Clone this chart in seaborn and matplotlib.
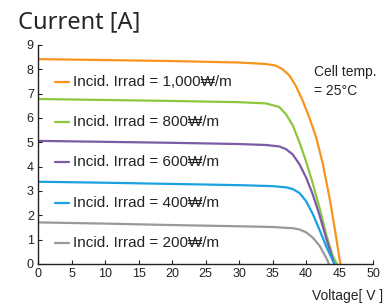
import pandas as pd
import matplotlib.pyplot as plt
import seaborn as sns

# I-V curves (voltage in V, current in A)
v_1000 = [0, 10, 20, 30, 34, 35.5, 36.5, 37.5, 38.5, 39.5, 40.5, 41.5, 42.5, 43.5, 44.3, 45.1]
i_1000 = [8.42, 8.38, 8.34, 8.28, 8.22, 8.15, 8.0, 7.75, 7.3, 6.7, 6.0, 5.2, 4.1, 2.7, 1.4, 0]

v_800 = [0, 10, 20, 30, 34, 36, 37, 38, 39, 40, 41, 42, 43, 44, 44.6]
i_800 = [6.78, 6.74, 6.70, 6.65, 6.60, 6.45, 6.15, 5.7, 5.0, 4.2, 3.3, 2.3, 1.2, 0.3, 0]

v_600 = [0, 10, 20, 30, 34, 36, 37, 38, 39, 40, 41, 42, 43, 44.2]
i_600 = [5.06, 5.02, 4.98, 4.93, 4.89, 4.83, 4.72, 4.50, 4.10, 3.55, 2.85, 2.0, 1.05, 0]

v_400 = [0, 10, 20, 30, 35, 37, 38, 39, 40, 41, 42, 43, 44.2]
i_400 = [3.38, 3.34, 3.29, 3.24, 3.20, 3.15, 3.08, 2.92, 2.58, 2.05, 1.40, 0.72, 0]

v_200 = [0, 10, 20, 30, 35, 38, 39, 40, 41, 42, 43, 43.4]
i_200 = [1.71, 1.66, 1.60, 1.55, 1.52, 1.47, 1.42, 1.30, 1.08, 0.75, 0.25, 0]

labels = ['Incid. Irrad = 1,000₩/m', 'Incid. Irrad = 800₩/m', 'Incid. Irrad = 600₩/m',
          'Incid. Irrad = 400₩/m', 'Incid. Irrad = 200₩/m']
label_y = [7.48, 5.84, 4.19, 2.5, 0.86]
colors = ['#F7941D', '#8DC63F', '#7B5BA6', '#1BA1E2', '#999999']

curves = [(v_1000, i_1000), (v_800, i_800), (v_600, i_600), (v_400, i_400), (v_200, i_200)]
df = pd.concat([pd.DataFrame({'V': v, 'I': i, 'irr': lab}) for (v, i), lab in zip(curves, labels)])

sns.set_style('ticks')
plt.rcParams['font.family'] = ['Liberation Sans', 'DejaVu Sans']

fig = plt.figure(figsize=(3.92, 3.04), dpi=100)
ax = fig.add_axes([0.097, 0.1316, 0.855, 0.7204])

sns.lineplot(data=df, x='V', y='I', hue='irr', palette=colors, sort=False,
             estimator=None, legend=False, linewidth=1.6, ax=ax)

for lab, y, c in zip(labels, label_y, colors):
    ax.plot([2.6, 4.6], [y, y], color=c, linewidth=1.6)
    ax.text(5.2, y, lab, fontsize=11, va='center', ha='left', color='#222222')

ax.text(41.2, 7.5, 'Cell temp.\n= 25°C', fontsize=10, va='center', ha='left',
        color='#222222', linespacing=1.4)

ax.set_xlim(0, 50)
ax.set_ylim(0, 9)
ax.set_xticks(range(0, 51, 5))
ax.set_yticks(range(0, 10))
ax.tick_params(direction='in', length=3, width=0.8, labelsize=9, pad=3, colors='#222222')
for s in ['left', 'bottom']:
    ax.spines[s].set_color('#222222')
    ax.spines[s].set_linewidth(1)
sns.despine(ax=ax)
ax.set_xlabel('')
ax.set_ylabel('')

fig.text(0.046, 0.908, 'Current [A]', fontsize=17, family='Noto Sans', va='baseline', ha='left')
fig.text(0.978, 0.004, 'Voltage[ V ]', fontsize=10, va='bottom', ha='right', color='#222222')

fig.savefig('out.png', dpi=100)
